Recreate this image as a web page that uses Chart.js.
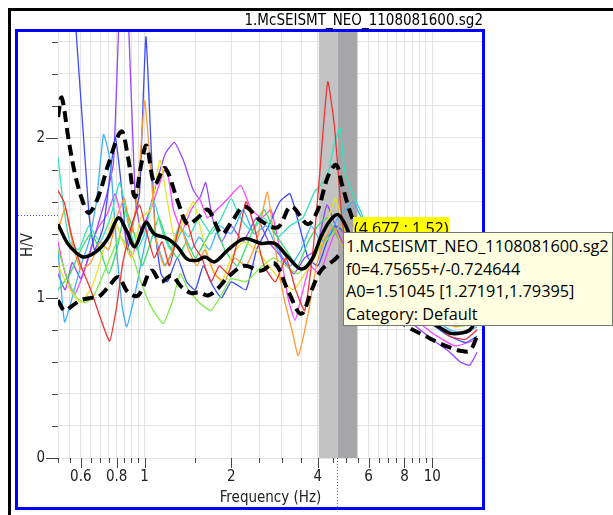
<!DOCTYPE html>
<html>
<head>
<meta charset="utf-8">
<script src="https://cdn.jsdelivr.net/npm/chart.js@4.4.1/dist/chart.umd.min.js"></script>
<style>
  html, body { margin: 0; padding: 0; background: #fff; }
  #wrap { position: relative; width: 613px; height: 515px; overflow: hidden; background: #fff; }
  #chart { position: absolute; left: 0; top: 0; }
  .outer { position: absolute; left: 8px; top: 8px; width: 640px; height: 540px; border-top: 3px solid #000; border-left: 3px solid #000; }
  .frame { position: absolute; left: 15px; top: 29px; width: 464px; height: 475px; border: 3px solid #0000ff; }
  .title { position: absolute; right: 130px; top: 11px; font: 15px "DejaVu Sans Condensed", "DejaVu Sans", sans-serif; line-height: 18px; color: #000; white-space: nowrap; }
  .coord { position: absolute; left: 353px; top: 217px; height: 17px; line-height: 17px; padding: 0 1px; background: #ffff00; color: #000; font: 16px "Open Sans", sans-serif; white-space: nowrap; }
  .tip { position: absolute; left: 343px; top: 232px; width: 270px; height: 94px; box-sizing: border-box; background: #ffffe1; border: 1px solid #767676; padding: 2px 0 0 2px; font: 16.3px "Open Sans", sans-serif; line-height: 22.5px; color: #000; white-space: nowrap; }
</style>
</head>
<body>
<div id="wrap">
  <canvas id="chart" width="613" height="515"></canvas>
  <div class="outer"></div>
  <div class="frame"></div>
  <div class="title">1.McSEISMT_NEO_1108081600.sg2</div>
  <div class="coord">(4.677 ; 1.52)</div>
  <div class="tip">
    <div>1.McSEISMT_NEO_1108081600.sg2</div>
    <div>f0=4.75655+/-0.724644</div>
    <div>A0=1.51045 [1.27191,1.79395]</div>
    <div>Category: Default</div>
  </div>
</div>
<script>
// axis ticks
const freqTicks = [0.5, 0.55, 0.6, 0.65, 0.7, 0.75, 0.8, 0.85, 0.9, 0.95, 1, 1.5, 2, 2.5, 3, 3.5, 4, 4.5, 5, 5.5, 6, 6.5, 7, 7.5, 8, 8.5, 9, 9.5, 10, 15]
const freqLabels = [0.6, 0.8, 1, 2, 4, 6, 8, 10]
const hvTicks = [0, 0.2, 0.4, 0.6, 0.8, 1, 1.2, 1.4, 1.6, 1.8, 2, 2.2, 2.4, 2.6]
const hvLabels = [0, 1, 2]

// f0 bands and mouse cursor
const bandLo = [4.032, 4.69]
const bandHi = [4.69, 5.481]
const bandColors = ['#c3c3c3', '#a6a6a9']
const cursorPos = [4.677, 1.52]

// average H/V and +/- std curves
const meanF = [0.5, 0.54, 0.58, 0.62, 0.69, 0.75, 0.81, 0.865, 0.925, 1.01, 1.08, 1.2, 1.3, 1.41, 1.53, 1.62, 1.75, 1.95, 2.22, 2.54, 2.83, 3.15, 3.5, 3.8, 4.1, 4.4, 4.7, 5.0, 5.4, 6.0, 7.0, 8.2, 9.5, 10.5, 11.5, 12.6, 13.5, 14.3]
const meanV = [1.46, 1.34, 1.28, 1.255, 1.3, 1.38, 1.5, 1.42, 1.32, 1.47, 1.4, 1.37, 1.32, 1.24, 1.235, 1.255, 1.225, 1.3, 1.37, 1.34, 1.34, 1.255, 1.18, 1.235, 1.38, 1.48, 1.52, 1.45, 1.3, 1.15, 1.02, 0.92, 0.86, 0.82, 0.78, 0.78, 0.8, 0.87]
const upperF = [0.5, 0.515, 0.545, 0.575, 0.61, 0.64, 0.69, 0.75, 0.83, 0.875, 0.925, 0.975, 1.015, 1.085, 1.175, 1.3, 1.41, 1.53, 1.66, 1.85, 2.0, 2.22, 2.54, 2.9, 3.23, 3.69, 4.0, 4.33, 4.63, 4.85, 5.15, 5.6, 6.3, 7.2, 8.4, 9.6, 10.6, 11.6, 12.6, 13.5, 14.3]
const upperV = [2.13, 2.25, 1.98, 1.76, 1.6, 1.53, 1.63, 1.84, 2.04, 1.88, 1.63, 1.84, 1.95, 1.71, 1.81, 1.61, 1.46, 1.5, 1.55, 1.4, 1.47, 1.57, 1.48, 1.44, 1.57, 1.46, 1.55, 1.755, 1.83, 1.71, 1.55, 1.38, 1.25, 1.15, 1.06, 0.98, 0.93, 0.9, 0.91, 0.95, 1.0]
const lowerF = [0.5, 0.527, 0.56, 0.6, 0.65, 0.69, 0.75, 0.81, 0.875, 0.95, 1.055, 1.14, 1.24, 1.34, 1.45, 1.55, 1.66, 1.8, 1.95, 2.22, 2.54, 2.83, 3.15, 3.5, 3.8, 4.1, 4.55, 4.9, 5.3, 6.0, 7.0, 8.2, 9.5, 10.5, 11.5, 12.5, 13.5, 14.3]
const lowerV = [0.985, 0.92, 0.95, 0.985, 1.0, 1.005, 1.07, 1.13, 1.035, 1.015, 1.17, 1.1, 1.14, 1.07, 1.03, 1.035, 1.015, 1.06, 1.13, 1.2, 1.17, 1.215, 1.045, 0.9, 1.045, 1.17, 1.235, 1.28, 1.2, 1.05, 0.92, 0.82, 0.76, 0.72, 0.69, 0.67, 0.67, 0.76]

// individual time windows
const redF = [0.5, 0.527, 0.556, 0.6, 0.65, 0.7, 0.756, 0.8, 0.84, 0.9, 0.96, 1.02, 1.08, 1.15, 1.22, 1.3, 1.36, 1.42, 1.49, 1.58, 1.7, 1.82, 1.95, 2.1, 2.25, 2.4, 2.6, 2.85, 3.1, 3.35, 3.6, 3.85, 4.05, 4.33, 4.57, 4.85, 5.2, 5.8, 7, 8.5, 10, 11.5, 13, 14.3]
const redV = [1.67, 1.59, 1.4, 1.2, 1.05, 0.88, 0.73, 0.95, 1.22, 1.45, 1.58, 1.4, 1.25, 1.35, 1.2, 1.4, 1.52, 1.45, 1.32, 1.25, 1.1, 1.2, 1.15, 1.35, 1.6, 1.45, 1.2, 1.1, 1.25, 1.05, 0.92, 1.3, 1.75, 2.35, 2.07, 1.5, 1.15, 1.0, 1.05, 0.95, 0.85, 0.76, 0.74, 0.8]
const orangeF = [0.5, 0.53, 0.56, 0.6, 0.65, 0.7, 0.75, 0.8, 0.85, 0.9, 0.95, 1.0, 1.05, 1.1, 1.17, 1.25, 1.33, 1.42, 1.52, 1.62, 1.75, 1.9, 2.05, 2.25, 2.45, 2.67, 2.85, 3.05, 3.25, 3.42, 3.7, 3.95, 4.2, 4.5, 4.8, 5.2, 6, 8, 10, 12, 14.3]
const orangeV = [1.42, 1.56, 1.35, 1.18, 1.22, 1.35, 1.3, 1.5, 1.62, 1.4, 1.7, 2.23, 1.8, 1.35, 1.2, 1.3, 1.45, 1.3, 1.2, 1.3, 1.15, 1.1, 1.25, 1.2, 1.35, 1.66, 1.3, 1.0, 0.8, 0.64, 0.9, 1.2, 1.35, 1.45, 1.35, 1.25, 1.1, 0.95, 0.88, 0.82, 0.86]
const yellowF = [0.5, 0.55, 0.6, 0.66, 0.72, 0.78, 0.84, 0.9, 0.97, 1.05, 1.13, 1.2, 1.28, 1.38, 1.48, 1.58, 1.7, 1.85, 2.0, 2.2, 2.45, 2.7, 3.0, 3.3, 3.6, 3.9, 4.2, 4.6, 4.9, 5.3, 6, 8, 10, 12, 14.3]
const yellowV = [1.2, 1.05, 0.97, 1.08, 1.3, 1.5, 1.35, 1.25, 1.5, 1.55, 1.86, 1.6, 1.35, 1.5, 1.6, 1.4, 1.2, 1.1, 1.25, 1.35, 1.3, 1.2, 1.1, 1.05, 1.15, 1.25, 1.4, 1.62, 1.45, 1.2, 1.05, 0.95, 0.88, 0.84, 0.88]
const limeF = [0.5, 0.54, 0.58, 0.62, 0.66, 0.7, 0.76, 0.82, 0.9, 0.97, 1.05, 1.16, 1.25, 1.33, 1.42, 1.55, 1.7, 1.85, 2.0, 2.25, 2.5, 2.8, 3.1, 3.4, 3.7, 4.0, 4.4, 4.8, 5.2, 6, 8, 10, 12, 14.3]
const limeV = [1.3, 1.12, 1.0, 0.97, 1.0, 1.1, 1.25, 1.38, 1.28, 1.1, 0.95, 0.84, 0.98, 1.15, 1.05, 0.97, 0.92, 1.02, 1.12, 1.1, 1.18, 1.25, 1.2, 1.15, 1.22, 1.3, 1.38, 1.45, 1.3, 1.12, 0.98, 0.9, 0.82, 0.84]
const springF = [0.5, 0.55, 0.6, 0.65, 0.7, 0.75, 0.8, 0.86, 0.92, 0.98, 1.05, 1.12, 1.2, 1.3, 1.4, 1.5, 1.62, 1.75, 1.9, 2.1, 2.35, 2.6, 2.85, 3.1, 3.4, 3.7, 4.0, 4.3, 4.6, 5.0, 5.5, 6.5, 8, 10, 12, 14.3]
const springV = [1.05, 1.15, 1.3, 1.4, 1.3, 1.15, 1.3, 1.55, 1.4, 1.2, 1.35, 1.5, 1.35, 1.25, 1.35, 1.25, 1.35, 1.45, 1.3, 1.2, 1.4, 1.55, 1.4, 1.3, 1.2, 1.35, 1.45, 1.5, 1.4, 1.3, 1.2, 1.1, 1.0, 0.92, 0.86, 0.9]
const turqF = [0.5, 0.52, 0.55, 0.59, 0.64, 0.7, 0.76, 0.82, 0.88, 0.94, 1.0, 1.07, 1.15, 1.23, 1.32, 1.42, 1.55, 1.7, 1.85, 2.0, 2.15, 2.35, 2.6, 2.9, 3.2, 3.55, 3.89, 4.3, 4.55, 4.78, 4.95, 5.2, 5.6, 6.0, 7, 8.5, 10, 12, 14.3]
const turqV = [1.88, 1.6, 1.35, 1.3, 1.45, 1.35, 1.5, 1.72, 1.45, 1.3, 1.4, 1.62, 1.42, 1.3, 1.45, 1.38, 1.5, 1.4, 1.5, 1.62, 1.5, 1.42, 1.5, 1.38, 1.45, 1.5, 1.66, 1.75, 1.95, 2.06, 1.8, 1.68, 1.55, 1.42, 1.25, 1.05, 0.95, 0.85, 0.85]
const skyF = [0.5, 0.527, 0.56, 0.6, 0.64, 0.68, 0.72, 0.76, 0.8, 0.835, 0.866, 0.92, 0.98, 1.04, 1.1, 1.18, 1.26, 1.35, 1.45, 1.55, 1.68, 1.82, 2.0, 2.2, 2.4, 2.65, 2.9, 3.2, 3.5, 3.8, 4.1, 4.4, 4.7, 5.0, 5.3, 5.6, 6.0, 7, 8.5, 10, 11.5, 13, 14.3]
const skyV = [1.3, 0.85, 1.0, 1.2, 1.35, 1.6, 2.02, 1.85, 1.3, 0.95, 0.82, 1.0, 1.25, 1.45, 1.35, 1.2, 1.3, 1.42, 1.3, 1.38, 1.3, 1.45, 1.4, 1.55, 1.4, 1.45, 1.3, 1.2, 1.3, 1.45, 1.35, 1.4, 1.5, 1.55, 1.6, 1.52, 1.4, 1.2, 1.0, 0.88, 0.8, 0.78, 0.82]
const blueF = [0.5, 0.64, 0.67, 0.72, 0.79, 0.83, 0.87, 0.92, 0.96, 1.01, 1.05, 1.09, 1.14, 1.2, 1.3, 1.4, 1.5, 1.6, 1.72, 1.85, 2.0, 2.25, 2.45, 2.7, 2.95, 3.2, 3.45, 3.7, 4.0, 4.3, 4.6, 5.0, 5.5, 7, 9, 11, 13, 14.3]
const blueV = [4.3, 1.53, 1.3, 1.45, 2.0, 1.7, 1.3, 1.5, 1.65, 2.63, 2.0, 1.4, 1.15, 1.1, 1.25, 1.1, 1.05, 1.2, 1.08, 1.0, 1.1, 1.05, 1.3, 1.45, 1.6, 1.65, 1.45, 1.25, 1.2, 1.35, 1.45, 1.4, 1.3, 1.05, 0.9, 0.78, 0.72, 0.76]
const violetF = [0.5, 0.53, 0.56, 0.6, 0.65, 0.7, 0.74, 0.78, 0.845, 0.93, 0.98, 1.04, 1.1, 1.18, 1.27, 1.37, 1.47, 1.55, 1.63, 1.72, 1.85, 2.0, 2.2, 2.45, 2.7, 3.0, 3.3, 3.6, 3.95, 4.3, 4.6, 5.0, 6, 8, 10, 11.5, 12.5, 13.5, 14.3]
const violetV = [1.15, 1.05, 1.22, 1.12, 1.3, 1.5, 1.65, 1.85, 3.4, 1.6, 1.4, 1.55, 1.72, 1.9, 1.97, 1.85, 1.68, 1.62, 1.72, 1.5, 1.35, 1.45, 1.35, 1.5, 1.35, 1.25, 1.15, 1.25, 1.3, 1.58, 1.45, 1.3, 1.1, 0.88, 0.74, 0.66, 0.6, 0.58, 0.66]
const magentaF = [0.5, 0.53, 0.57, 0.62, 0.68, 0.74, 0.79, 0.85, 0.9, 0.96, 1.05, 1.12, 1.19, 1.26, 1.35, 1.45, 1.55, 1.65, 1.78, 1.95, 2.16, 2.35, 2.55, 2.75, 2.95, 3.15, 3.33, 3.5, 3.75, 4.05, 4.35, 4.7, 5.1, 6, 8, 10, 12, 14.3]
const magentaV = [1.35, 1.15, 1.02, 1.18, 1.42, 1.52, 1.65, 1.42, 1.25, 1.4, 1.55, 1.7, 1.82, 1.55, 1.42, 1.55, 1.62, 1.5, 1.55, 1.62, 1.7, 1.55, 1.5, 1.55, 1.3, 1.0, 0.86, 1.0, 1.2, 1.15, 1.3, 1.45, 1.35, 1.15, 0.92, 0.78, 0.7, 0.74]

const windows = [
  [redF, redV, '#ee3333'],
  [orangeF, orangeV, '#ff9a30'],
  [yellowF, yellowV, '#e4e428'],
  [limeF, limeV, '#7aee44'],
  [springF, springV, '#33dd66'],
  [turqF, turqV, '#33e3bb'],
  [skyF, skyV, '#3cb0ff'],
  [blueF, blueV, '#3a4cff'],
  [violetF, violetV, '#9944ff'],
  [magentaF, magentaV, '#ff44ff']
]

const pts = (f, v) => f.map((x, i) => ({ x, y: v[i] }))
const tickFont = '"DejaVu Sans Condensed", "DejaVu Sans", sans-serif'

const datasets = [
  { data: pts(meanF, meanV), borderColor: '#000', borderWidth: 3.5, tension: 0.35 },
  { data: pts(upperF, upperV), borderColor: '#000', borderWidth: 4, borderDash: [11, 6], tension: 0.35 },
  { data: pts(lowerF, lowerV), borderColor: '#000', borderWidth: 4, borderDash: [11, 6], tension: 0.35 }
].concat(windows.map(([f, v, c]) => ({ data: pts(f, v), borderColor: c, borderWidth: 1.3, tension: 0.15 })))

// grey f0 bands behind the curves
const peakBands = {
  id: 'peakBands',
  beforeDatasetsDraw(chart) {
    const { ctx, chartArea: a, scales: { x } } = chart
    ctx.save()
    bandLo.forEach((lo, i) => {
      const x0 = x.getPixelForValue(lo)
      const x1 = x.getPixelForValue(bandHi[i])
      ctx.fillStyle = bandColors[i]
      ctx.fillRect(x0, a.top, x1 - x0, a.bottom - a.top)
    })
    ctx.restore()
  }
}

// tick marks (long on labelled ticks) and the dotted mouse cursor
const axisMarks = {
  id: 'axisMarks',
  afterDraw(chart) {
    const { ctx, chartArea: a, scales: { x, y } } = chart
    ctx.save()
    ctx.strokeStyle = '#444'
    ctx.lineWidth = 1
    ctx.beginPath()
    freqTicks.forEach(f => {
      const px = Math.round(x.getPixelForValue(f)) + 0.5
      ctx.moveTo(px, a.bottom)
      ctx.lineTo(px, a.bottom + (freqLabels.includes(f) ? 10 : 5))
    })
    hvTicks.forEach(v => {
      const py = Math.round(y.getPixelForValue(v)) + 0.5
      ctx.moveTo(a.left, py)
      ctx.lineTo(a.left - (hvLabels.includes(v) ? 12 : 6), py)
    })
    ctx.stroke()

    const cx = Math.round(x.getPixelForValue(cursorPos[0])) + 0.5
    const cy = Math.round(y.getPixelForValue(cursorPos[1])) + 0.5
    ctx.strokeStyle = '#5050ff'
    ctx.setLineDash([1, 2])
    ctx.beginPath()
    ctx.moveTo(cx, a.bottom)
    ctx.lineTo(cx, chart.height - 8)
    ctx.moveTo(18, cy)
    ctx.lineTo(a.left, cy)
    ctx.stroke()
    ctx.restore()
  }
}

new Chart(document.getElementById('chart'), {
  type: 'line',
  data: { datasets },
  options: {
    responsive: false,
    animation: false,
    devicePixelRatio: 1,
    elements: { point: { radius: 0 }, line: { borderJoinStyle: 'round' } },
    layout: { padding: { left: 16, right: 130, top: 32, bottom: 7 } },
    plugins: { legend: { display: false }, tooltip: { enabled: false } },
    scales: {
      x: {
        type: 'logarithmic',
        min: 0.5,
        max: 15,
        afterBuildTicks: s => { s.ticks = freqTicks.map(v => ({ value: v })) },
        afterFit: s => { s.height = 50 },
        ticks: {
          autoSkip: false,
          maxRotation: 0,
          padding: 10,
          color: '#222',
          font: { family: tickFont, size: 15 },
          callback: v => (freqLabels.includes(v) ? String(v) : '')
        },
        grid: { color: '#e3e3e3', drawTicks: false },
        border: { display: false },
        title: { display: true, text: 'Frequency (Hz)', color: '#222', font: { family: tickFont, size: 15 }, padding: { top: 0, bottom: 1 } }
      },
      y: {
        min: 0,
        max: 2.66,
        afterBuildTicks: s => { s.ticks = hvTicks.map(v => ({ value: v })) },
        afterFit: s => { s.width = 42 },
        ticks: {
          padding: 13,
          color: '#222',
          font: { family: tickFont, size: 15 },
          callback: v => (hvLabels.includes(v) ? String(v) : '')
        },
        grid: { color: '#e3e3e3', drawTicks: false },
        border: { display: false },
        title: { display: true, text: 'H/V', color: '#222', font: { family: tickFont, size: 15 }, padding: { top: 3, bottom: 0 } }
      }
    }
  },
  plugins: [peakBands, axisMarks]
})
</script>
</body>
</html>
